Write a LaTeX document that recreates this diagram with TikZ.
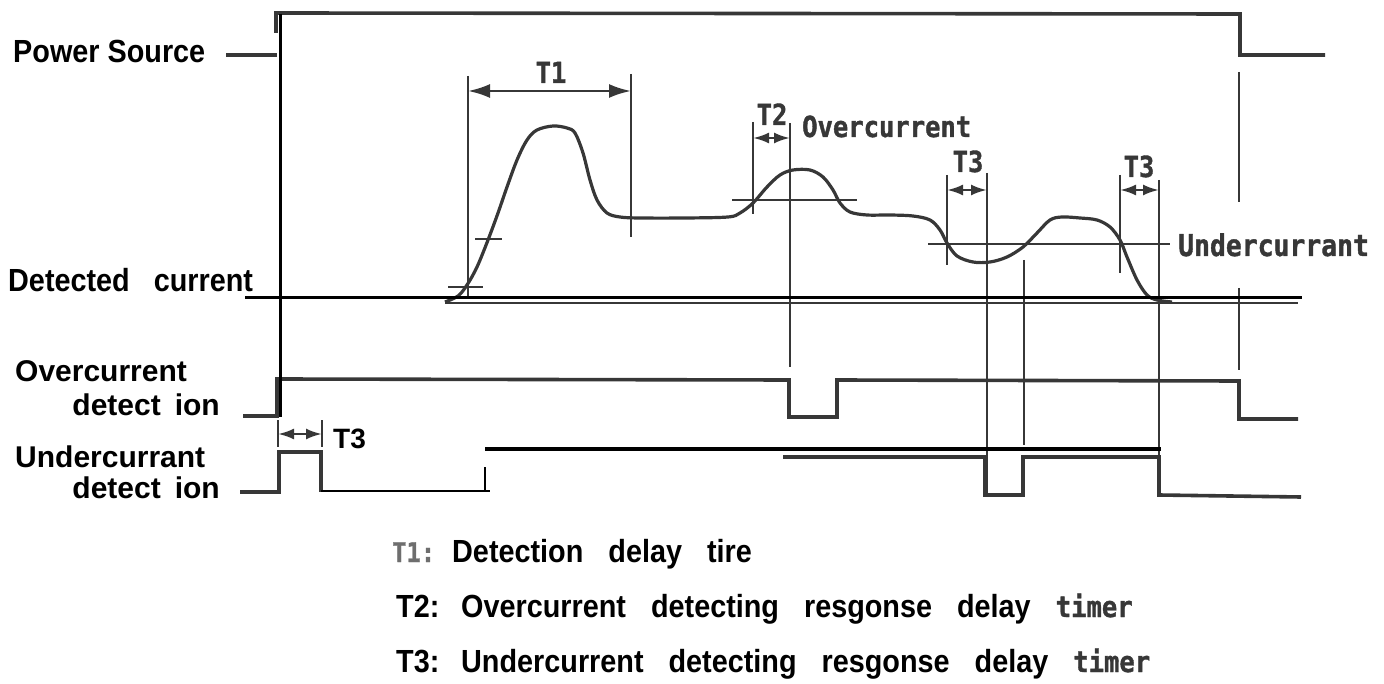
\documentclass[tikz,border=0pt]{standalone}
\usepackage{fontspec}
\setmainfont{Liberation Sans}
\newfontfamily\lab{Liberation Sans}[FakeStretch=0.9]
\newfontfamily\labw{Liberation Sans}
\newfontfamily\pf{DejaVu Sans Mono}[FakeStretch=0.88, FakeBold=1.2]
\usetikzlibrary{arrows.meta}
\definecolor{sig}{RGB}{55,55,55}
\definecolor{lgr}{RGB}{110,110,110}
\newcommand{\lgsp}{\spaceskip=25pt\relax}
\tikzset{
  lbl/.style={font=\lab\bfseries\fontsize{32}{32}\selectfont, inner sep=0pt, text=black},
  lblw/.style={font=\labw\bfseries\fontsize{30}{30}\selectfont, inner sep=0pt, text=black},
  plbl/.style={font=\pf\bfseries\fontsize{29}{29}\selectfont, inner sep=0pt, text=sig},
  leg/.style={font=\lab\bfseries\fontsize{32}{32}\selectfont, inner sep=0pt, text=black},
  wave/.style={draw=sig, line width=3.6pt, line join=miter, line cap=butt},
  thinln/.style={draw=sig, line width=2.2pt},
  curveln/.style={draw=sig, line width=3.2pt, line join=round},
  blk/.style={draw=black, line width=3pt},
  tarr/.style={draw=sig, line width=2.6pt, {Latex[length=22pt,width=14pt]}-{Latex[length=22pt,width=14pt]}},
  tarrs/.style={draw=sig, line width=2.6pt, {Latex[length=16pt,width=11pt]}-{Latex[length=16pt,width=11pt]}},
}
\begin{document}
\begin{tikzpicture}[x=1pt, y=-1pt]
\useasboundingbox (0,0) rectangle (1384,684);

% ---------- Power source trace ----------
\draw[wave] (226,55) -- (277,55);
\draw[wave] (276,33) -- (276,13) -- (1240,14) -- (1240,55) -- (1325,55);

% ---------- detected current ----------
\draw[draw=sig, line width=2.5pt] (445,303) -- (1298,303);
\draw[curveln] plot[smooth, tension=0.55] coordinates {(445,302) (458,296) (467,285) (477,267) (488,240) (498,213) (507,187) (517,160) (527,140) (537,130) (553,126) (567,128) (575,133) (583,153) (590,180) (597,200) (607,213) (620,217) (640,218) (685,218) (728,217) (740,213) (753,203) (767,187) (780,175) (793,170) (810,170) (823,177) (833,190) (840,203) (850,212) (867,215) (890,215) (913,216) (930,220) (940,230) (947,243) (957,256) (973,262) (990,262) (1007,257) (1023,247) (1037,233) (1050,220) (1062,217) (1080,218) (1097,220) (1110,227) (1120,240) (1127,257) (1137,280) (1147,295) (1157,300) (1172,302)};
\draw[thinln] (448,287) -- (483,287);
\draw[thinln] (475,239) -- (502,239);
\draw[thinln] (732,200) -- (857,200);
\draw[thinln] (928,244) -- (1170,244);

% ---------- timing marker verticals ----------
\draw[thinln] (468,76) -- (468,298);
\draw[thinln] (631,74) -- (631,237);
\draw[thinln] (753,122) -- (753,214);
\draw[thinln] (790,123) -- (790,367);
\draw[thinln] (947,175) -- (947,265);
\draw[thinln] (987,173) -- (987,495);
\draw[thinln] (1024,260) -- (1024,445);
\draw[thinln] (1120,175) -- (1120,273);
\draw[thinln] (1159,180) -- (1159,495);
\draw[thinln] (1239,72) -- (1239,202);
\draw[thinln] (1239,288) -- (1239,370);
\draw[thinln] (278,420) -- (278,447);
\draw[thinln] (322,420) -- (322,447);

% ---------- marker arrows ----------
\draw[tarr] (468,91) -- (631,91);
\draw[tarrs] (753,138) -- (790,138);
\draw[tarrs] (947,190) -- (987,190);
\draw[tarrs] (1120,190) -- (1159,190);
\draw[tarrs] (278,434) -- (322,434);

% ---------- overcurrent detection ----------
\draw[wave] (243,416) -- (277,416) -- (277,379) -- (789,380) -- (789,417) -- (837,417) -- (837,380) -- (1239,381) -- (1239,419) -- (1298,419);

% ---------- undercurrent detection ----------
\draw[wave] (240,492) -- (279,492) -- (279,452) -- (321,452) -- (321,492);
\draw[wave] (783,457) -- (985,457) -- (985,495) -- (1023,495) -- (1023,457) -- (1159,457) -- (1159,495) -- (1301,497);
\draw[black, line width=2.5pt] (321,491) -- (490,491);
\draw[black, line width=1.5pt] (485,467) -- (485,491);
\draw[black, line width=4.5pt] (485,449) -- (1161,449);

% ---------- black axes ----------
\draw[blk] (280,14) -- (280,417);
\draw[blk] (245,298) -- (1302,298);

% ---------- left labels ----------
\node[lbl, anchor=base west] (ps) at (13,63) {Power Source};
\node[lbl, anchor=base west] (dc) at (8,292) {Detected\hspace{24pt}current};
\node[lblw, anchor=base west] (oc1) at (15,382) {Overcurrent};
\node[lblw, anchor=base east] (oc2) at (220,416) {detect\hspace{14pt}ion};
\node[lblw, anchor=base west] (uc1) at (15,467) {Undercurrant};
\node[lblw, anchor=base east] (uc2) at (220,498) {detect\hspace{14pt}ion};
\node[lblw, anchor=base west, font=\labw\bfseries\fontsize{28}{28}\selectfont] (t3s) at (333,448) {T3};

% ---------- plot labels ----------
\node[plbl, anchor=base] (t1) at (551,83) {T1};
\node[plbl, anchor=base] (t2) at (772,125) {T2};
\node[plbl, anchor=base west] (ocl) at (802,137) {Overcurrent};
\node[plbl, anchor=base] (t3a) at (968,172) {T3};
\node[plbl, anchor=base] (t3b) at (1139,177) {T3};
\node[plbl, anchor=base west, font=\pf\bfseries\fontsize{30}{30}\selectfont] (ucl) at (1178,256) {Undercurrant};

% ---------- legend ----------
\node[plbl, anchor=base west, text=lgr, font=\pf\bfseries\fontsize{27}{27}\selectfont] (l1a) at (392,562) {T1:};
\node[leg, anchor=base west] (l1) at (452,562) {\lgsp Detection delay tire};
\node[leg, anchor=base west] (l2a) at (396,617) {T2:};
\node[leg, anchor=base west] (l2) at (461,617) {\lgsp Overcurrent detecting resgonse delay {\pf\bfseries\fontsize{29}{29}\selectfont\color{sig}timer}};
\node[leg, anchor=base west] (l3a) at (396,672) {T3:};
\node[leg, anchor=base west] (l3) at (461,672) {\lgsp Undercurrent detecting resgonse delay {\pf\bfseries\fontsize{29}{29}\selectfont\color{sig}timer}};
\end{tikzpicture}
\end{document}
